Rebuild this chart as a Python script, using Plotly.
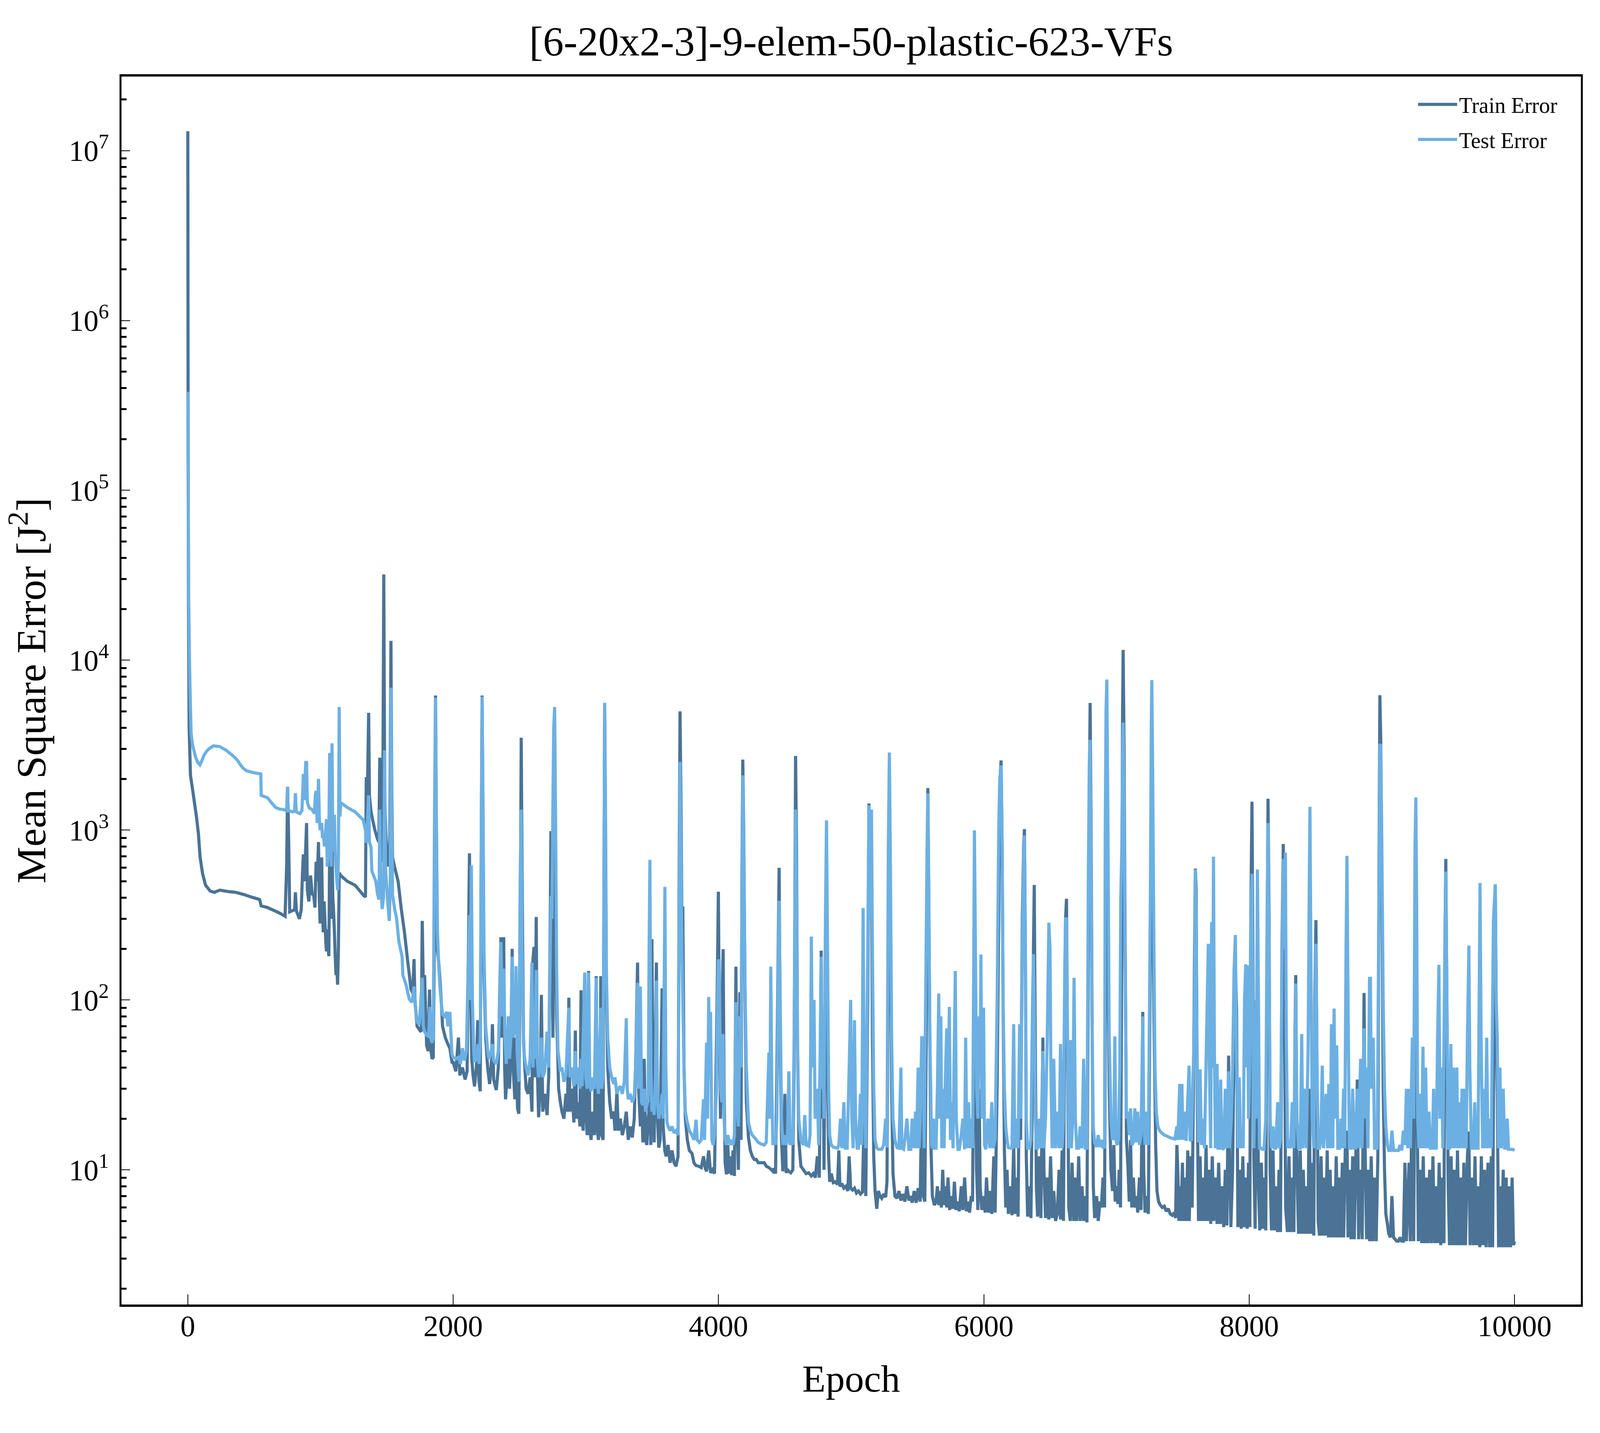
import plotly.graph_objects as go

# ---------------- data (epoch, mean square error) ----------------
train_early = [
    (0, 1.3e7), (2, 3.5e5), (5, 2.0e4), (10, 4000), (20, 2100), (35, 1750), (50, 1450), (65, 1200),
    (80, 950), (92, 700), (110, 560), (133, 475), (169, 437), (200, 430), (241, 443), (300, 435),
    (361, 430), (420, 418), (481, 403), (541, 390), (553, 358), (600, 350), (661, 333), (700, 322),
    (733, 311), (745, 620), (752, 1800), (760, 900), (768, 330), (805, 340), (811, 430), (818, 335),
    (841, 300), (855, 340), (865, 575), (871, 720), (880, 500), (895, 1100), (901, 445), (912, 380),
    (925, 540), (937, 420), (949, 415), (958, 350), (967, 650), (975, 500), (985, 850), (991, 400),
    (997, 282), (1003, 450), (1009, 690), (1015, 330), (1021, 250), (1027, 380), (1033, 300),
    (1040, 220), (1045, 193), (1052, 260), (1058, 200), (1063, 181), (1069, 780), (1075, 420),
    (1081, 300), (1087, 750), (1093, 400), (1099, 330), (1105, 250), (1111, 180), (1117, 140),
    (1123, 160), (1129, 123), (1135, 200), (1141, 560), (1153, 540), (1201, 500), (1261, 473),
    (1321, 416), (1339, 403), (1345, 2050), (1352, 1400), (1363, 4900), (1369, 1600), (1380, 1300),
    (1393, 1150), (1410, 1000), (1429, 890), (1440, 850), (1447, 2670), (1453, 900), (1459, 650),
    (1468, 700), (1477, 32000), (1484, 1500), (1495, 890), (1505, 700), (1513, 610), (1522, 700),
    (1531, 13000), (1537, 1800), (1543, 690), (1560, 600), (1585, 500), (1609, 343), (1633, 250),
    (1657, 170), (1670, 140), (1681, 116), (1695, 110), (1705, 174), (1712, 100), (1728, 70),
    (1740, 68), (1750, 66), (1759, 65), (1767, 292), (1775, 120), (1785, 140), (1800, 54),
    (1812, 50), (1822, 115), (1830, 52), (1841, 45), (1850, 46), (1860, 300), (1867, 6200),
    (1874, 900), (1880, 200), (1891, 166), (1900, 135), (1910, 100), (1920, 70), (1941, 60),
    (1960, 55), (1975, 52), (1991, 43),
]

train_mid = [
    (2000, 43), (2020, 38), (2040, 60), (2050, 36), (2070, 40), (2090, 34), (2105, 38), (2115, 200),
    (2123, 730), (2130, 150), (2140, 45), (2150, 36), (2161, 31), (2175, 40), (2185, 76), (2195, 33),
    (2204, 29), (2211, 600), (2218, 6200), (2225, 1200), (2232, 150), (2245, 60), (2260, 40),
    (2275, 32), (2290, 45), (2296, 72), (2305, 34), (2325, 29.5), (2340, 40), (2352, 120), (2360, 234),
    (2368, 60), (2375, 150), (2381, 234), (2388, 40), (2395, 26), (2405, 35), (2417, 80), (2425, 30),
    (2435, 50), (2445, 200), (2452, 40), (2465, 26), (2474, 60), (2485, 23), (2495, 21.4), (2505, 200),
    (2513, 3500), (2520, 500), (2530, 60), (2540, 40), (2550, 30), (2565, 28), (2580, 35), (2594, 22),
    (2600, 166), (2609, 205), (2617, 35), (2626, 308), (2634, 40), (2644, 20.4), (2655, 30), (2665, 107),
    (2675, 22), (2690, 28), (2708, 21), (2720, 35), (2730, 200), (2737, 986), (2744, 400), (2752, 60),
    (2765, 1500), (2772, 400), (2780, 80), (2795, 30), (2808, 25), (2820, 22), (2835, 20), (2850, 28),
    (2862, 22), (2872, 103), (2880, 22), (2895, 30), (2910, 19), (2921, 66), (2930, 20), (2945, 25),
    (2955, 18), (2964, 114), (2972, 20), (2980, 17), (2992, 145), (3000, 22), (3010, 16), (3021, 148),
    (3030, 17), (3040, 15), (3050, 22), (3065, 16), (3078, 138), (3085, 18), (3095, 15), (3105, 20),
    (3113, 138), (3120, 16), (3130, 15), (3136, 300), (3142, 5600), (3148, 1000), (3155, 120),
    (3165, 40), (3180, 25), (3195, 20), (3210, 22), (3220, 17), (3234, 29), (3245, 17), (3260, 20),
    (3275, 16), (3290, 18), (3305, 22), (3320, 15), (3335, 18), (3350, 15.5), (3365, 20), (3375, 40),
    (3390, 166), (3398, 30), (3411, 18), (3420, 30), (3430, 14.5), (3440, 45), (3450, 15), (3460, 14),
    (3470, 20), (3483, 25), (3490, 14), (3498, 228), (3505, 40), (3515, 14.5), (3525, 60), (3532, 166),
    (3540, 20), (3550, 13.5), (3560, 15), (3575, 117), (3583, 18), (3595, 13), (3605, 12), (3620, 14),
    (3635, 11), (3650, 13), (3665, 11), (3680, 10.5), (3695, 12), (3703, 500), (3710, 5000),
    (3717, 1500), (3724, 300), (3731, 355), (3740, 40), (3750, 20), (3765, 15), (3780, 13),
    (3800, 12.5), (3815, 11), (3830, 10.6), (3850, 10.5), (3870, 10.3), (3887, 12), (3900, 10.2),
    (3910, 9.8), (3926, 13), (3940, 9.6), (3955, 10), (3970, 9.5), (3985, 60), (3992, 150), (3999, 434),
    (4006, 80), (4015, 20), (4025, 60), (4035, 199), (4042, 30), (4050, 11), (4060, 9.4), (4070, 14),
    (4078, 9.5), (4090, 12), (4100, 9.3), (4110, 13), (4120, 9.2), (4131, 157), (4140, 20), (4150, 10),
    (4161, 111), (4170, 15), (4177, 600), (4183, 2600), (4190, 1000), (4200, 100), (4210, 25),
    (4226, 15.5), (4240, 13), (4255, 12), (4270, 11.5), (4285, 11.5), (4300, 11), (4320, 11),
    (4345, 11), (4360, 10.5), (4380, 10.3), (4400, 10), (4410, 9.8), (4420, 10.2), (4430, 9.5),
    (4440, 40), (4450, 200), (4457, 600), (4465, 60), (4475, 15), (4485, 9.8), (4500, 28), (4510, 9.6),
    (4520, 10), (4530, 9.8), (4545, 9.6), (4560, 10), (4570, 40), (4581, 2730), (4588, 800), (4595, 60),
    (4605, 15), (4621, 10.5), (4640, 10), (4660, 9.5), (4680, 9.6), (4700, 9.2), (4715, 9.5),
    (4730, 9.0), (4745, 12), (4760, 9.0), (4774, 195), (4781, 20), (4788, 70), (4795, 10), (4806, 100),
    (4814, 394), (4822, 40), (4830, 12), (4838, 8.5), (4850, 9.5), (4865, 8.4), (4880, 8.5),
    (4897, 8.2), (4907, 13), (4915, 8.0), (4930, 8.3), (4945, 7.8), (4960, 8.0), (4975, 7.5),
    (4985, 12), (4996, 7.8), (5010, 7.6), (5025, 7.8), (5040, 7.3), (5055, 7.5), (5070, 7.2),
    (5085, 7.4), (5100, 25), (5110, 7.0), (5125, 100), (5134, 1435), (5140, 300), (5147, 900),
    (5153, 650), (5160, 60), (5170, 12), (5180, 7.5), (5193, 5.9), (5205, 7.5), (5218, 7.0),
    (5230, 6.8), (5245, 7.2), (5260, 6.9), (5270, 8.5), (5280, 200), (5288, 1300), (5296, 300),
    (5305, 30), (5315, 9.5), (5330, 7.0), (5345, 6.8), (5360, 7.5), (5375, 6.6), (5390, 7.2),
    (5405, 6.5), (5420, 8), (5435, 6.6), (5449, 7.0), (5460, 6.4), (5475, 7.5), (5490, 6.4),
    (5505, 7.8), (5520, 6.5), (5532, 28), (5544, 7.0), (5555, 6.5), (5565, 50), (5572, 300),
    (5578, 1766), (5585, 400), (5593, 60), (5600, 15), (5612, 7.0), (5627, 6.2), (5640, 6.5),
    (5650, 8), (5660, 6.2), (5670, 7.5), (5680, 6.0), (5690, 10), (5700, 6.2), (5712, 8), (5720, 6.0),
    (5730, 9), (5742, 5.8), (5755, 7), (5768, 5.9), (5778, 8.5), (5790, 5.8), (5800, 6.5),
    (5815, 5.7), (5830, 8), (5842, 5.8), (5855, 9), (5868, 5.7), (5880, 6.5), (5892, 5.6), (5905, 7),
    (5915, 6.5), (5922, 40), (5929, 300), (5936, 60), (5945, 10), (5955, 5.8), (5965, 30), (5972, 8),
    (5985, 5.8),
]

train_late = [
    (6000, 7), (6010, 5.6), (6020, 9), (6035, 5.6), (6050, 7.5), (6060, 5.5), (6075, 12), (6085, 5.6),
    (6100, 30), (6112, 300), (6120, 1830), (6130, 2570), (6138, 800), (6145, 100), (6155, 13),
    (6165, 6), (6175, 10), (6185, 5.5), (6200, 8), (6212, 5.4), (6225, 14), (6235, 5.5), (6248, 9),
    (6258, 5.3), (6270, 65), (6277, 15), (6290, 300), (6300, 800), (6306, 1013), (6313, 200),
    (6320, 12), (6330, 5.3), (6343, 8), (6355, 5.2), (6367, 40), (6374, 200), (6380, 475), (6388, 50),
    (6396, 8), (6405, 5.3), (6418, 12), (6430, 5.2), (6445, 60), (6453, 10), (6465, 5.2), (6478, 9),
    (6490, 5.1), (6503, 12), (6515, 5.2), (6527, 7.5), (6540, 5.0), (6554, 5.5), (6567, 10),
    (6578, 5.1), (6590, 13), (6600, 5.0), (6610, 100), (6616, 300), (6623, 394), (6630, 60), (6640, 6),
    (6652, 5.0), (6665, 11), (6678, 5.0), (6690, 9), (6700, 5.0), (6715, 12), (6726, 5.0), (6740, 8),
    (6752, 5.0), (6765, 7), (6777, 4.9), (6788, 200), (6795, 1500), (6801, 5600), (6808, 1200),
    (6815, 100), (6825, 8), (6835, 5.2), (6850, 7), (6862, 5.0), (6876, 6.5), (6886, 6.0), (6898, 9),
    (6910, 6), (6920, 500), (6927, 1650), (6935, 200), (6945, 30), (6958, 10), (6970, 7.5), (6980, 14),
    (6990, 6.5), (7000, 8), (7010, 6.3), (7020, 10), (7030, 6.0), (7040, 200), (7045, 4000),
    (7050, 11500), (7057, 3000), (7064, 300), (7075, 15), (7086, 10.5), (7096, 6.5), (7106, 15),
    (7115, 6.0), (7127, 9), (7138, 6), (7150, 7), (7160, 5.6), (7173, 9), (7185, 5.8), (7198, 85),
    (7205, 10), (7215, 5.6), (7228, 7), (7240, 5.5), (7255, 200), (7262, 1000), (7266, 2000),
    (7273, 400), (7282, 80), (7295, 14), (7305, 7.5), (7317, 6.5), (7330, 6.2), (7345, 6.0), (7360, 6.1),
    (7375, 5.7), (7390, 5.9), (7405, 5.5), (7420, 5.4), (7435, 5.6), (7445, 5.2), (7455, 14),
    (7462, 10), (7470, 5), (7478, 8), (7486, 5), (7497, 11), (7505, 5.0), (7516, 9), (7526, 5.0),
    (7537, 13), (7548, 5.0), (7560, 12), (7570, 6), (7580, 30), (7587, 150), (7594, 593), (7600, 450),
    (7608, 30), (7618, 5.0), (7630, 12), (7640, 5.0), (7652, 9), (7663, 5.0), (7675, 14), (7685, 5.0),
    (7700, 10), (7710, 4.8), (7722, 12), (7732, 5), (7745, 9), (7758, 4.8), (7770, 11), (7782, 4.8),
    (7795, 8), (7808, 4.6), (7820, 10), (7832, 4.7), (7845, 47), (7852, 12), (7862, 4.6), (7875, 10),
    (7886, 60), (7896, 157), (7905, 88), (7915, 4.6), (7928, 10), (7940, 4.5), (7952, 12), (7963, 4.6),
    (7975, 9), (7985, 4.5), (7995, 11), (8005, 4.6), (8012, 300), (8021, 1470), (8028, 200), (8035, 12),
    (8045, 4.5), (8055, 100), (8062, 40), (8070, 8), (8080, 4.4), (8092, 11), (8104, 4.5), (8115, 9),
    (8125, 4.4), (8135, 200), (8142, 1530), (8150, 300), (8158, 10), (8168, 4.4), (8180, 13),
    (8190, 4.4), (8202, 8), (8213, 4.3), (8225, 10), (8236, 4.3), (8247, 200), (8257, 828), (8265, 100),
    (8275, 6), (8288, 4.3), (8300, 12), (8312, 4.3), (8325, 9), (8337, 4.3), (8345, 60), (8351, 140),
    (8360, 10), (8372, 4.2), (8385, 13), (8396, 4.2), (8408, 10), (8420, 4.2), (8432, 8), (8444, 4.2),
    (8452, 30), (8463, 4.2), (8475, 11), (8487, 4.1), (8495, 100), (8503, 295), (8511, 40), (8520, 5),
    (8530, 4.1), (8542, 12), (8553, 4.1), (8565, 9), (8576, 4.1), (8588, 13), (8598, 4.0), (8610, 10),
    (8622, 4.0), (8634, 8), (8645, 4.0), (8656, 12), (8668, 4.0), (8680, 9), (8690, 4.0), (8702, 11),
    (8712, 4.0), (8724, 13), (8737, 17), (8745, 4.0), (8757, 10), (8768, 3.9), (8780, 12), (8792, 3.9),
    (8815, 34), (8825, 3.9), (8840, 10), (8852, 3.9), (8866, 110), (8875, 12), (8885, 3.9), (8897, 10),
    (8908, 3.8), (8920, 12), (8932, 3.8), (8945, 9), (8957, 3.8), (8970, 12), (8978, 500),
    (8985, 6220), (8992, 3270), (9000, 500), (9010, 30), (9020, 10), (9030, 5.5), (9042, 4.8),
    (9052, 4.2), (9064, 4.0), (9076, 7), (9088, 4.0), (9100, 3.9), (9112, 3.8), (9125, 3.8),
    (9137, 4.0), (9150, 3.8), (9162, 3.8), (9174, 11), (9185, 3.8), (9205, 11), (9215, 3.8),
    (9230, 46), (9240, 3.8), (9250, 100), (9256, 740), (9265, 30), (9275, 3.8), (9288, 10), (9300, 3.7),
    (9312, 12), (9323, 3.7), (9335, 9), (9347, 3.7), (9360, 10), (9372, 3.7), (9385, 12), (9397, 3.7),
    (9410, 8), (9420, 3.7), (9432, 11), (9444, 3.6), (9456, 9), (9468, 3.7), (9475, 200), (9482, 676),
    (9490, 100), (9500, 8), (9510, 3.6), (9522, 12), (9534, 3.6), (9546, 10), (9558, 3.6), (9570, 13),
    (9582, 3.6), (9594, 9), (9606, 3.6), (9618, 11), (9630, 3.6), (9645, 12), (9656, 16.8),
    (9665, 3.6), (9678, 9), (9690, 3.6), (9702, 12), (9714, 3.6), (9726, 8), (9738, 3.5), (9750, 12),
    (9762, 3.6), (9774, 10), (9786, 3.5), (9800, 11), (9812, 3.5), (9825, 12), (9835, 3.5),
    (9845, 100), (9855, 479), (9863, 60), (9870, 27), (9880, 3.5), (9892, 8), (9903, 3.5), (9915, 10),
    (9925, 3.5), (9937, 9), (9948, 3.5), (9960, 8), (9970, 3.5), (9982, 9), (9992, 3.6), (10000, 3.8),
]

test_early = [
    (0, 380000), (3, 80000), (7, 22000), (13, 9600), (19, 5500), (25, 3700), (35, 3200), (43, 3000),
    (61, 2650), (75, 2500), (91, 2420), (105, 2550), (121, 2750), (140, 2900), (157, 3000),
    (193, 3130), (241, 3100), (289, 2950), (337, 2750), (370, 2600), (397, 2420), (420, 2300),
    (445, 2230), (505, 2170), (550, 2140), (553, 1600), (601, 1550), (630, 1450), (661, 1360),
    (690, 1330), (721, 1320), (745, 1300), (751, 1800), (757, 1300), (790, 1280), (805, 1300),
    (811, 1650), (817, 1280), (845, 1250), (860, 1300), (871, 2140), (877, 1500), (889, 2500),
    (895, 2500), (901, 1450), (915, 1350), (937, 1320), (955, 1250), (961, 1600), (967, 1700),
    (975, 1100), (985, 2000), (991, 1200), (997, 1000), (1009, 1100), (1015, 900), (1021, 940),
    (1030, 800), (1045, 1160), (1051, 610), (1057, 700), (1063, 900), (1069, 2840), (1075, 900),
    (1081, 610), (1087, 3240), (1093, 900), (1099, 750), (1105, 1230), (1111, 700), (1117, 600),
    (1123, 500), (1129, 443), (1135, 700), (1141, 5300), (1147, 1200), (1153, 1450), (1201, 1360),
    (1261, 1280), (1321, 1150), (1339, 1000), (1345, 840), (1351, 1000), (1363, 1600), (1369, 850),
    (1381, 790), (1387, 575), (1400, 540), (1417, 500), (1430, 420), (1441, 390), (1447, 1320),
    (1453, 500), (1465, 343), (1475, 400), (1483, 2950), (1490, 600), (1500, 450), (1510, 350),
    (1519, 292), (1526, 500), (1531, 6900), (1537, 1200), (1543, 415), (1560, 340), (1573, 305),
    (1591, 220), (1615, 180), (1621, 140), (1645, 123), (1669, 101), (1690, 97), (1705, 120),
    (1712, 95), (1729, 74), (1745, 72), (1767, 135), (1775, 70), (1785, 65), (1800, 62), (1815, 61),
    (1825, 91), (1835, 58), (1841, 56), (1850, 60), (1860, 1500), (1867, 6000), (1874, 1000),
    (1882, 250), (1891, 160), (1900, 120), (1910, 97), (1920, 82), (1935, 80), (1950, 85), (1960, 70),
    (1975, 85), (1991, 48),
]

test_mid = [
    (2000, 46), (2020, 45), (2040, 46), (2055, 42), (2070, 52), (2085, 44), (2100, 50), (2110, 120),
    (2123, 316), (2131, 100), (2137, 620), (2145, 100), (2155, 50), (2161, 43), (2175, 45), (2185, 55),
    (2195, 42), (2205, 60), (2212, 1000), (2218, 6100), (2225, 1500), (2232, 200), (2245, 70),
    (2260, 50), (2270, 45), (2282, 48), (2296, 55), (2305, 44), (2325, 42), (2340, 50), (2352, 100),
    (2360, 219), (2368, 80), (2381, 153), (2390, 60), (2400, 42), (2417, 80), (2425, 45), (2435, 60),
    (2445, 180), (2452, 60), (2465, 70), (2474, 158), (2482, 50), (2495, 33), (2505, 500), (2513, 1320),
    (2520, 200), (2530, 55), (2538, 46), (2550, 40), (2565, 36), (2580, 45), (2594, 166), (2602, 40),
    (2609, 90), (2617, 45), (2626, 150), (2634, 45), (2644, 35), (2655, 40), (2665, 60), (2675, 35),
    (2690, 38), (2708, 65), (2720, 40), (2730, 150), (2737, 407), (2745, 300), (2752, 1500),
    (2758, 4000), (2765, 5300), (2772, 1200), (2780, 150), (2790, 50), (2808, 38), (2820, 40),
    (2835, 33), (2850, 36), (2862, 60), (2872, 90), (2880, 35), (2895, 40), (2910, 31), (2921, 50),
    (2930, 32), (2945, 40), (2955, 30), (2964, 45), (2972, 31), (2980, 60), (2992, 145), (3000, 35),
    (3010, 30), (3021, 145), (3030, 32), (3040, 29), (3050, 35), (3065, 30), (3078, 135), (3085, 35),
    (3095, 28), (3113, 90), (3120, 30), (3130, 35), (3136, 400), (3142, 5600), (3148, 1500),
    (3155, 150), (3165, 60), (3180, 40), (3195, 35), (3210, 32), (3220, 35), (3234, 28), (3245, 30),
    (3260, 31), (3275, 28), (3290, 33), (3305, 78), (3312, 30), (3320, 26), (3335, 28), (3350, 25),
    (3365, 27), (3375, 40), (3390, 126), (3398, 30), (3411, 120), (3420, 25), (3430, 24), (3440, 30),
    (3450, 22), (3460, 24), (3470, 26), (3477, 200), (3483, 668), (3490, 40), (3498, 22), (3505, 25),
    (3515, 21), (3525, 35), (3532, 130), (3540, 25), (3550, 20), (3560, 22), (3575, 28), (3583, 20),
    (3590, 100), (3596, 463), (3603, 40), (3612, 19), (3620, 18), (3635, 17), (3650, 18), (3665, 16.5),
    (3680, 17), (3695, 16), (3703, 300), (3710, 2520), (3717, 800), (3724, 200), (3731, 100),
    (3740, 40), (3750, 22), (3765, 19), (3780, 17), (3800, 16), (3815, 15), (3831, 19.7), (3840, 15),
    (3855, 14.5), (3870, 15), (3887, 26), (3895, 15), (3910, 56), (3918, 20), (3926, 104), (3933, 40),
    (3940, 85), (3950, 15), (3960, 14), (3970, 16), (3985, 30), (3992, 100), (3999, 170), (4006, 170),
    (4015, 30), (4025, 25), (4035, 63), (4042, 20), (4050, 15), (4060, 14), (4070, 16), (4078, 15),
    (4090, 14), (4100, 15), (4110, 14), (4120, 16), (4131, 97), (4140, 25), (4150, 18), (4161, 80),
    (4170, 40), (4177, 500), (4183, 2100), (4190, 800), (4200, 120), (4210, 40), (4226, 19),
    (4240, 17), (4255, 16), (4270, 15.5), (4285, 15), (4300, 14.5), (4320, 14.2), (4345, 14),
    (4360, 14.5), (4380, 49), (4387, 20), (4394, 157), (4402, 30), (4410, 14), (4420, 15), (4430, 14),
    (4440, 20), (4450, 150), (4457, 384), (4465, 100), (4475, 20), (4485, 14), (4500, 16), (4510, 14),
    (4520, 15), (4530, 38), (4540, 14), (4550, 15), (4560, 14), (4570, 60), (4581, 1320), (4588, 400),
    (4595, 60), (4605, 20), (4621, 15), (4640, 14), (4650, 21), (4660, 14), (4680, 13.8), (4690, 16),
    (4700, 236), (4708, 40), (4720, 100), (4728, 20), (4745, 30), (4755, 14), (4765, 40), (4774, 180),
    (4781, 30), (4788, 60), (4795, 20), (4806, 300), (4814, 1140), (4822, 200), (4830, 30), (4838, 16),
    (4850, 14), (4865, 13.6), (4880, 13.5), (4897, 13.4), (4907, 14), (4920, 20), (4930, 13.4),
    (4945, 25), (4955, 13.4), (4970, 13.4), (4985, 40), (4996, 100), (5005, 20), (5015, 13.4),
    (5025, 76), (5033, 20), (5045, 13.4), (5055, 13.4), (5070, 28), (5080, 14), (5090, 348), (5098, 30),
    (5110, 13.4), (5125, 200), (5134, 1400), (5140, 300), (5147, 600), (5153, 1320), (5160, 200),
    (5170, 30), (5180, 15), (5193, 13.5), (5205, 13.2), (5218, 13.2), (5230, 13.2), (5245, 14),
    (5260, 20), (5270, 13.5), (5280, 800), (5288, 2860), (5296, 600), (5305, 60), (5315, 20),
    (5330, 15), (5345, 13.5), (5360, 13.4), (5375, 40), (5382, 13.4), (5395, 13.2), (5405, 15),
    (5420, 20), (5435, 13.2), (5449, 13.2), (5460, 20), (5475, 13.4), (5485, 22), (5492, 13.4),
    (5505, 40), (5512, 13.4), (5520, 20), (5532, 60), (5540, 60), (5550, 13.4), (5565, 200),
    (5572, 800), (5578, 1645), (5585, 400), (5593, 60), (5600, 30), (5605, 14), (5612, 13.4),
    (5620, 20), (5627, 13.4), (5640, 13.4), (5650, 30), (5660, 109), (5668, 20), (5676, 80),
    (5683, 13.4), (5690, 30), (5700, 13.4), (5712, 40), (5720, 68), (5728, 20), (5740, 91), (5748, 15),
    (5760, 25), (5768, 13.4), (5778, 60), (5785, 148), (5792, 20), (5805, 13.2), (5815, 13.2),
    (5830, 16), (5842, 20), (5855, 13.2), (5863, 60), (5872, 13.4), (5885, 25), (5895, 13.4),
    (5905, 20), (5915, 13.4), (5922, 100), (5929, 996), (5936, 229), (5945, 30), (5955, 20),
    (5965, 80), (5972, 40), (5978, 185), (5985, 20), (5998, 90),
]

test_late = [
    (6005, 14), (6015, 13.2), (6030, 20), (6045, 13.4), (6060, 25), (6070, 13.4), (6085, 15),
    (6100, 100), (6112, 1000), (6120, 2000), (6130, 2400), (6138, 800), (6145, 100), (6155, 30),
    (6165, 18), (6175, 15), (6185, 13.5), (6200, 13.4), (6212, 13.4), (6225, 72), (6233, 13.4),
    (6248, 20), (6258, 13.4), (6270, 72), (6277, 20), (6290, 200), (6300, 700), (6306, 930),
    (6313, 200), (6320, 20), (6330, 13.4), (6343, 13.4), (6355, 15), (6367, 100), (6374, 186),
    (6380, 90), (6388, 20), (6396, 13.4), (6405, 13.4), (6418, 20), (6430, 13.4), (6445, 50),
    (6453, 13.4), (6465, 20), (6478, 60), (6490, 285), (6499, 200), (6505, 40), (6515, 13.4),
    (6527, 45), (6540, 13.4), (6554, 22), (6567, 13.4), (6578, 55), (6590, 13.4), (6600, 20),
    (6610, 150), (6616, 300), (6623, 300), (6630, 60), (6640, 13.4), (6652, 58), (6660, 13.4),
    (6670, 20), (6680, 135), (6690, 20), (6700, 13.4), (6715, 13.4), (6726, 18), (6740, 13.4),
    (6752, 45), (6765, 13.4), (6777, 13.4), (6788, 600), (6795, 2500), (6801, 3400), (6808, 800),
    (6815, 80), (6825, 18), (6835, 14.5), (6850, 13.6), (6862, 16), (6876, 13.6), (6886, 15),
    (6898, 13.6), (6910, 13.6), (6915, 1000), (6921, 5000), (6927, 7700), (6935, 1200), (6945, 60),
    (6958, 20), (6970, 15), (6980, 16), (6987, 61), (6995, 15), (7005, 14), (7015, 15), (7025, 40),
    (7032, 393), (7040, 800), (7045, 2500), (7050, 4300), (7057, 1500), (7064, 200), (7075, 20),
    (7086, 22), (7096, 16), (7106, 23), (7115, 14), (7127, 14.5), (7138, 23), (7150, 14.5), (7160, 22),
    (7173, 14), (7185, 16), (7198, 80), (7205, 20), (7215, 14), (7228, 22), (7240, 14), (7255, 400),
    (7262, 4000), (7266, 7640), (7273, 2000), (7282, 200), (7290, 40), (7300, 22), (7312, 18),
    (7325, 17), (7340, 16.5), (7360, 16), (7380, 15.8), (7400, 15.5), (7420, 15.3), (7440, 15.2),
    (7455, 18), (7462, 15), (7477, 32), (7485, 15), (7493, 32), (7500, 15), (7516, 22), (7525, 14.8),
    (7547, 41), (7555, 14.8), (7565, 15), (7574, 30), (7582, 50), (7590, 152), (7594, 586), (7600, 300),
    (7608, 40), (7618, 14.5), (7630, 39), (7640, 14), (7652, 20), (7663, 13.4), (7680, 70), (7692, 214),
    (7700, 40), (7710, 13.4), (7717, 287), (7724, 40), (7731, 697), (7738, 50), (7745, 13.4), (7758, 42),
    (7765, 13.4), (7775, 13.4), (7785, 34), (7795, 13.4), (7808, 13.2), (7820, 30), (7832, 13.4),
    (7845, 38), (7852, 13.4), (7865, 20), (7875, 40), (7886, 150), (7896, 241), (7905, 40), (7915, 13.4),
    (7925, 35), (7935, 13.4), (7945, 16), (7955, 13.4), (7965, 100), (7974, 162), (7980, 40),
    (7987, 160), (7995, 20), (8005, 40), (8012, 300), (8021, 553), (8028, 100), (8035, 13.4),
    (8045, 90), (8052, 20), (8062, 586), (8070, 100), (8078, 13.4), (8090, 13.4), (8100, 13.2),
    (8112, 13.2), (8125, 20), (8135, 300), (8142, 1100), (8150, 200), (8158, 20), (8168, 13.4),
    (8180, 18), (8190, 13.4), (8200, 13.4), (8215, 25), (8225, 13.4), (8236, 15), (8247, 150),
    (8257, 676), (8265, 200), (8273, 738), (8280, 60), (8290, 13.4), (8300, 15), (8312, 13.4),
    (8325, 25), (8337, 13.4), (8345, 50), (8351, 125), (8360, 20), (8372, 13.4), (8385, 13.4),
    (8396, 63), (8404, 13.4), (8420, 30), (8430, 13.4), (8444, 50), (8452, 400), (8458, 1370),
    (8465, 200), (8475, 20), (8487, 13.4), (8495, 60), (8503, 214), (8511, 40), (8520, 13.4),
    (8530, 13.4), (8540, 15), (8551, 41), (8560, 13.4), (8580, 28), (8590, 13.4), (8600, 32),
    (8612, 13.4), (8620, 72), (8630, 13.4), (8640, 89), (8648, 20), (8660, 54), (8668, 13.4),
    (8680, 13.4), (8692, 20), (8700, 13.4), (8712, 30), (8720, 13.4), (8730, 200), (8737, 705),
    (8745, 100), (8755, 13.4), (8768, 13.4), (8780, 30), (8792, 13.4), (8800, 13.4), (8815, 30),
    (8825, 13.4), (8840, 45), (8850, 13.4), (8866, 68), (8875, 20), (8885, 40), (8895, 13.4),
    (8907, 134), (8914, 134), (8920, 30), (8935, 60), (8945, 13.4), (8955, 13.4), (8965, 13.4),
    (8978, 400), (8985, 3150), (8992, 3200), (9000, 800), (9010, 100), (9020, 30), (9030, 18),
    (9042, 14), (9052, 13), (9064, 13), (9076, 17), (9088, 13), (9100, 13), (9112, 13), (9125, 13),
    (9137, 14), (9150, 13), (9162, 17), (9174, 14), (9185, 30), (9195, 13.4), (9205, 30), (9215, 13.4),
    (9230, 60), (9240, 20), (9250, 800), (9256, 1556), (9262, 400), (9270, 20), (9280, 13.4),
    (9288, 28), (9300, 13.4), (9310, 53), (9318, 13.4), (9330, 40), (9340, 13.4), (9355, 22),
    (9365, 13.4), (9380, 13.4), (9390, 30), (9400, 13.4), (9410, 13.4), (9420, 60), (9430, 161),
    (9438, 20), (9450, 40), (9460, 13.4), (9475, 200), (9482, 570), (9490, 100), (9500, 13.4),
    (9510, 13.4), (9520, 55), (9528, 13.4), (9540, 40), (9548, 13.4), (9565, 40), (9572, 13.4),
    (9585, 25), (9593, 13.4), (9605, 30), (9613, 13.4), (9625, 30), (9635, 13.4), (9645, 60),
    (9656, 209), (9663, 40), (9675, 13.4), (9690, 13.4), (9700, 25), (9710, 13.4), (9725, 13.4),
    (9740, 488), (9748, 60), (9760, 13.4), (9770, 30), (9780, 13.4), (9790, 60), (9800, 13.4),
    (9815, 20), (9825, 13.4), (9835, 100), (9841, 295), (9855, 479), (9862, 100), (9870, 60),
    (9878, 13.4), (9890, 40), (9900, 13.4), (9915, 30), (9925, 13.4), (9935, 13.4), (9945, 20),
    (9955, 13.2), (9970, 13.2), (9985, 13.2), (10000, 13),
]

series_names = ["Train Error", "Test Error"]
series_colors = ["#4a7396", "#6cb0e3"]

x_tick_values = [0, 2000, 4000, 6000, 8000, 10000]
x_tick_labels = ["0", "2000", "4000", "6000", "8000", "10000"]
y_tick_values = [1e1, 1e2, 1e3, 1e4, 1e5, 1e6, 1e7]
y_tick_labels = ["10<sup>1</sup>", "10<sup>2</sup>", "10<sup>3</sup>", "10<sup>4</sup>",
                 "10<sup>5</sup>", "10<sup>6</sup>", "10<sup>7</sup>"]

title_text = "[6-20x2-3]-9-elem-50-plastic-623-VFs"
x_title = "Epoch"
y_title = "Mean Square Error [J<sup>2</sup>]"

# ---------------- build ----------------
train_pts = train_early + train_mid + train_late
test_pts = test_early + test_mid + test_late

FONT = "Liberation Serif"
W, H = 4096, 3669   # the page viewport

fig = go.Figure()
for name, color, pts in zip(series_names, series_colors, [train_pts, test_pts]):
    xs, ys = zip(*pts)
    fig.add_trace(go.Scatter(x=list(xs), y=list(ys), mode="lines", name=name, legendgroup=name,
                             line=dict(color=color, width=8, simplify=False)))

minor_vals = [m * 10 ** k for k in range(0, 8) for m in range(2, 10)]

fig.update_layout(
    width=W, height=H,
    paper_bgcolor="white", plot_bgcolor="white",
    margin=dict(l=311, r=49, t=196, b=329, autoexpand=False),
    font=dict(family=FONT, color="black", size=76),
    title=dict(text=title_text, x=0.5 + (311 - 49) / 2 / W, xanchor="center", y=0.9714,
               yanchor="middle", font=dict(family=FONT, size=106, color="black")),
    showlegend=True,
    legend=dict(x=0.8871, y=0.991, xanchor="left", yanchor="top", bgcolor="rgba(0,0,0,0)",
                borderwidth=0, font=dict(family=FONT, size=56, color="black"),
                itemwidth=100, tracegroupgap=14),
    xaxis=dict(
        range=[-500, 10500], tickmode="array", tickvals=x_tick_values, ticktext=x_tick_labels,
        ticks="inside", ticklen=26, tickwidth=1.7, tickcolor="black",
        showline=True, linewidth=6, linecolor="black", mirror=True,
        showgrid=False, zeroline=False, ticklabelstandoff=-16,
        tickfont=dict(family=FONT, size=76, color="black"),
        title=dict(text=x_title, font=dict(family=FONT, size=98, color="black"), standoff=60),
    ),
    yaxis=dict(
        type="log", range=[0.207, 7.436], tickmode="array", tickvals=y_tick_values,
        ticktext=y_tick_labels,
        ticks="inside", ticklen=22, tickwidth=2, tickcolor="black",
        minor=dict(tickmode="array", tickvals=minor_vals, ticks="inside", ticklen=13,
                   tickwidth=5, tickcolor="black", showgrid=False),
        showline=True, linewidth=5, linecolor="black", mirror=True,
        showgrid=False, zeroline=False, ticklabelstandoff=12,
        tickfont=dict(family=FONT, size=76, color="black"),
        title=dict(text=y_title, font=dict(family=FONT, size=106, color="black"), standoff=26),
    ),
)

fig.write_html("out.html", config={"displayModeBar": False},
               post_script="document.body.style.margin='0px';")
